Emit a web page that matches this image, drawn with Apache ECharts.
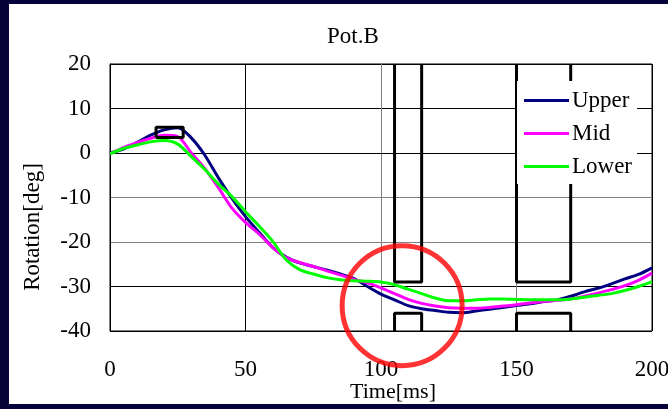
<!DOCTYPE html>
<html>
<head>
<meta charset="utf-8">
<script src="https://cdn.jsdelivr.net/npm/echarts@6/dist/echarts.min.js"></script>
<style>
  html, body { margin: 0; padding: 0; background: #03033a; }
  #wrap { position: relative; width: 668px; height: 409px; background: #03033a; overflow: hidden; }
  #panel { position: absolute; left: 9px; top: 4px; width: 659px; height: 400px; background: #ffffff; }
  #chart { position: absolute; left: 0; top: 0; width: 668px; height: 409px; }
</style>
</head>
<body>
<div id="wrap"><div id="panel"></div><div id="chart"></div></div>
<script>
const titleText = 'Pot.B';
const xName = 'Time[ms]';
const yName = 'Rotation[deg]';
const seriesNames = ['Upper', 'Mid', 'Lower'];
const xTicks = [0, 50, 100, 150, 200];
const yTicks = [-40, -30, -20, -10, 0, 10, 20];

const times = [0,5,10,15,20,25,30,35,40,45,50,55,60,65,70,75,80,85,90,95,100,
  105,110,115,120,125,130,135,140,145,150,155,160,165,170,175,180,185,190,195,200];
const upper = [0,0.9,2.4,4.0,5.2,5.7,3.4,-0.5,-5.6,-10.2,-14.3,-17.8,-21.2,-23.4,-24.7,-25.5,-26.3,-27.2,-28.2,-30.0,-31.7,
  -33.0,-34.3,-35.0,-35.4,-35.8,-35.9,-35.5,-35.1,-34.7,-34.3,-33.9,-33.4,-33.0,-32.2,-31.2,-30.4,-29.4,-28.3,-27.3,-25.8];
const mid = [-0.2,1.2,2.3,3.3,4.0,3.7,0.0,-3.5,-7.8,-12.4,-15.6,-18.2,-21.2,-23.5,-24.6,-25.5,-26.5,-27.4,-28.4,-29.2,-30.3,
  -31.6,-32.9,-33.8,-34.4,-34.8,-34.9,-34.9,-34.7,-34.4,-34.1,-33.7,-33.4,-33.1,-32.8,-32.2,-31.5,-30.7,-29.8,-28.6,-27.0];
const lower = [-0.2,1.0,1.8,2.5,2.8,2.0,-0.8,-3.7,-7.0,-9.8,-13.2,-16.4,-19.8,-24.0,-26.2,-27.2,-28.0,-28.5,-28.7,-28.8,-29.0,
  -29.6,-30.6,-31.6,-32.6,-33.2,-33.2,-33.0,-32.8,-32.8,-32.9,-33.0,-33.0,-33.0,-32.8,-32.4,-32.0,-31.6,-30.9,-30.0,-28.9];

// annotation boxes, in data units (time, deg)
const peakBox = [[17,3.5],[27,3.5],[27,5.8],[17,5.8],[17,3.5]];
const gateTop1 = [[105,20],[105,-29],[115,-29],[115,20]];
const gateBot1 = [[105,-40],[105,-36],[115,-36],[115,-40]];
const gateTop2 = [[150,20],[150,-29],[170,-29],[170,20]];
const gateBot2 = [[150,-40],[150,-36],[170,-36],[170,-40]];
const highlight = [[107.8,-34.3]];

const colors = ['#000080', '#ff00ff', '#00ff00'];
const values = [upper, mid, lower];
const FONT = 'Liberation Serif';

const chart = echarts.init(document.getElementById('chart'), null, { renderer: 'canvas' });

const curveSeries = seriesNames.map((n, k) => ({
  name: n,
  type: 'line',
  data: times.map((t, i) => [t, values[k][i]]),
  symbol: 'none',
  smooth: 0.3,
  lineStyle: { color: colors[k], width: 3 },
  itemStyle: { color: colors[k] },
  z: 3
}));

const boxSeries = [peakBox, gateTop1, gateBot1, gateTop2, gateBot2].map(d => ({
  type: 'line',
  data: d,
  symbol: 'none',
  silent: true,
  lineStyle: { color: '#000', width: 3 },
  z: 4
}));

chart.setOption({
  animation: false,
  title: {
    text: titleText,
    left: 322, top: 20,
    textStyle: { fontFamily: FONT, fontSize: 23, fontWeight: 'normal', color: '#000' }
  },
  legend: {
    data: seriesNames,
    orient: 'vertical',
    left: 517, top: 81,
    padding: [8, 5, 6, 7],
    itemGap: 10,
    icon: 'rect',
    itemWidth: 45, itemHeight: 3,
    backgroundColor: '#ffffff',
    textStyle: { fontFamily: FONT, fontSize: 23, color: '#000', padding: [0, 0, 0, -2], lineHeight: 23 },
    z: 10
  },
  grid: {
    left: 110, top: 64, right: 16, bottom: 78,
    outerBoundsMode: 'none',
    containLabel: false,
    show: true, borderColor: '#000', borderWidth: 1, backgroundColor: '#fff'
  },
  xAxis: {
    type: 'value', min: xTicks[0], max: xTicks[xTicks.length - 1], interval: 50,
    name: xName, nameLocation: 'middle', nameGap: 50, nameMoveOverlap: false,
    nameTextStyle: { fontFamily: FONT, fontSize: 22, color: '#000', padding: [0, 0, 0, 24] },
    axisLine: { lineStyle: { color: '#000', width: 1 } },
    axisTick: { show: false },
    axisLabel: { fontFamily: FONT, fontSize: 23, color: '#000', margin: 27 },
    splitLine: { show: true, lineStyle: { color: ['#000', '#000', '#808080', '#808080', '#000'], width: 1 } }
  },
  yAxis: {
    type: 'value', min: yTicks[0], max: yTicks[yTicks.length - 1], interval: 10,
    name: yName, nameLocation: 'middle', nameGap: 66, nameRotate: 90, nameMoveOverlap: false,
    nameTextStyle: { fontFamily: FONT, fontSize: 23, color: '#000', padding: [0, 59, 0, 0] },
    axisLine: { show: true, lineStyle: { color: '#000', width: 1 } },
    axisTick: { show: false },
    axisLabel: { fontFamily: FONT, fontSize: 23, color: '#000', margin: 19 },
    splitLine: { show: true, lineStyle: { color: ['#000', '#000', '#808080', '#808080', '#808080', '#000', '#000'], width: 1 } }
  },
  series: curveSeries.concat(boxSeries).concat([{
    type: 'scatter',
    data: highlight,
    symbol: 'circle',
    symbolSize: 120,
    clip: false,
    silent: true,
    itemStyle: { color: 'rgba(0,0,0,0)', borderColor: '#ff0000', borderWidth: 5 },
    z: 6
  }])
});
</script>
</body>
</html>
